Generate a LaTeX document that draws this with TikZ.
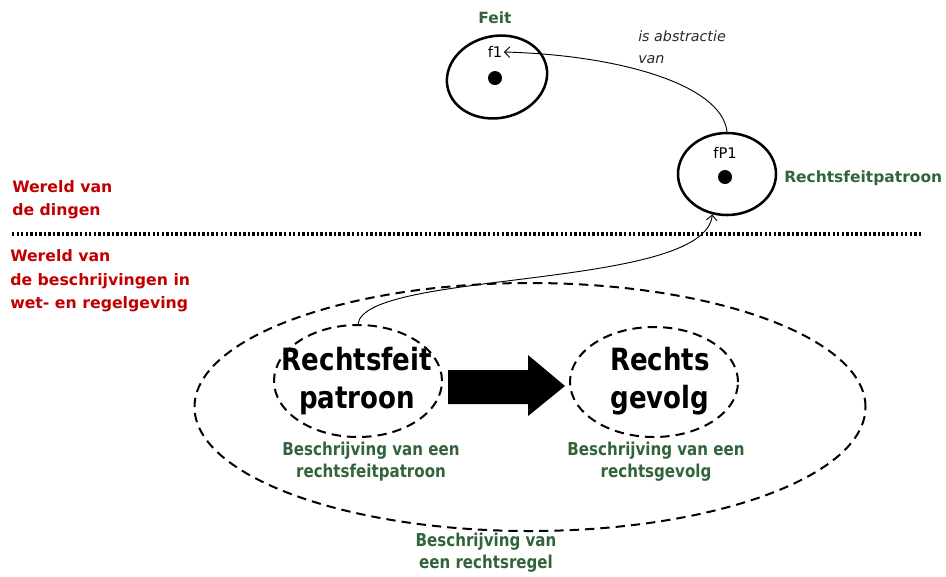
\documentclass[tikz,border=0pt]{standalone}
\usepackage{fontspec}
\setmainfont{DejaVu Sans}
\newfontfamily\cond[FakeStretch=0.85]{DejaVu Sans}
\usetikzlibrary{shapes.geometric,arrows.meta}
\definecolor{wgreen}{RGB}{50,100,60}
\definecolor{wred}{RGB}{192,0,0}
\definecolor{wgray}{RGB}{40,40,40}
\tikzset{
  solidell/.style={ellipse,draw,line width=1.9pt,inner sep=0pt},
  dashell/.style={ellipse,draw,line width=1.5pt,inner sep=0pt,dash pattern=on 7pt off 4.5pt},
  blackdot/.style={circle,fill=black,inner sep=0pt,minimum size=10.5pt},
  redtxt/.style={text=wred,font=\bfseries\fontsize{11.8}{17.5}\selectfont,align=left,inner sep=0pt,anchor=west},
  greentxt/.style={text=wgreen,font=\cond\bfseries\fontsize{13.3}{16.5}\selectfont,align=center,inner sep=0pt},
  greenlab/.style={text=wgreen,font=\bfseries\fontsize{11.6}{14}\selectfont,inner sep=0pt},
  bigtxt/.style={font=\cond\bfseries\fontsize{23}{28.5}\selectfont,align=center,inner sep=0pt},
  smalltxt/.style={font=\fontsize{11}{13}\selectfont,inner sep=1pt},
  relarrow/.style={line width=0.7pt,-{Straight Barb[length=4pt,width=8pt]}}
}
\begin{document}
\begin{tikzpicture}[x=0.75pt,y=-0.75pt]
\path[use as bounding box] (0,0) rectangle (946,576);
% upper world
\node[greenlab] (feitlab) at (495,18) {Feit};
\node[solidell,minimum width=75.75pt,minimum height=61.5pt,rotate=12] (f1) at (497,77) {};
\node[smalltxt] (f1txt) at (495,52) {f1};
\node[blackdot] (f1dot) at (495,78) {};
\node[solidell,minimum width=73.5pt,minimum height=61.5pt] (fP1) at (727,174) {};
\node[smalltxt] (fP1txt) at (725,153) {fP1};
\node[blackdot] (fP1dot) at (725,177) {};
\node[greenlab,anchor=west] (rfplab) at (784,178) {Rechtsfeitpatroon};
\node[text=wgray,font=\itshape\fontsize{10.7}{16.5}\selectfont,align=left,inner sep=0pt,anchor=west] (abstr) at (638,47) {is abstractie\\van};
\draw[relarrow] (fP1.north) .. controls (722,85) and (620,55) .. (f1txt.east);
% separator
\node[redtxt] (w1) at (12,200) {Wereld van\\de dingen};
\coordinate (sepL) at (12,234);
\coordinate (sepR) at (922,234);
\draw[line width=2.4pt,dash pattern=on 1.8pt off 1.6pt] (sepL) -- (sepR);
\node[redtxt] (w2) at (10,281) {Wereld van\\de beschrijvingen in\\wet- en regelgeving};
% lower world
\node[dashell,minimum width=503.25pt,minimum height=186pt] (regel) at (530,407) {};
\node[dashell,minimum width=126pt,minimum height=84pt] (lp) at (358,381) {};
\node[dashell,minimum width=126pt,minimum height=82.5pt] (rg) at (654,382) {};
\node[bigtxt] (lptxt) at (357,381) {Rechtsfeit\\patroon};
\node[bigtxt] (rgtxt) at (660,381) {Rechts\\gevolg};
\fill (448,370) -- (528,370) -- (528,355) -- (565,386) -- (528,416) -- (528,404) -- (448,404) -- cycle;
\node[greentxt] (lpdesc) at (371,462) {Beschrijving van een\\rechtsfeitpatroon};
\node[greentxt] (rgdesc) at (656,462) {Beschrijving van een\\rechtsgevolg};
\node[greentxt] (regeldesc) at (486,553) {Beschrijving van\\een rechtsregel};
\draw[relarrow] (lp.north) .. controls (365,270) and (705,290) .. (fP1.250);
\end{tikzpicture}
\end{document}
